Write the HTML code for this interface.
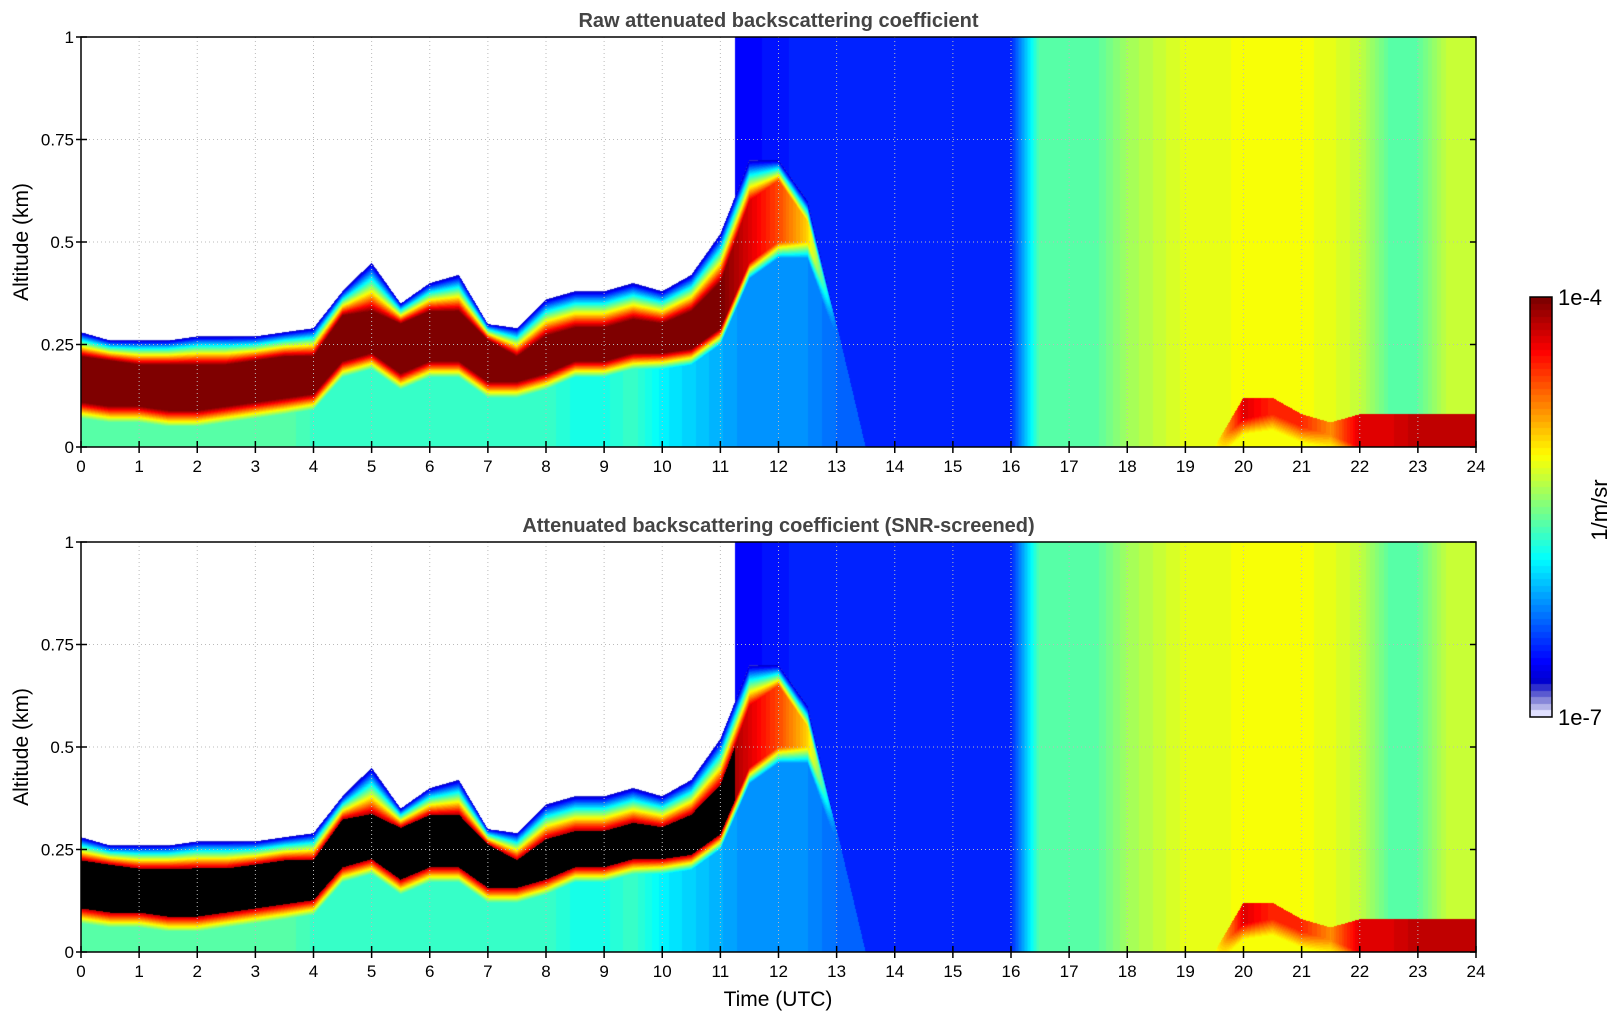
<!DOCTYPE html>
<html><head><meta charset="utf-8">
<style>
body{margin:0;background:#fff;width:1621px;height:1020px;overflow:hidden;font-family:"Liberation Sans",sans-serif;}
#wrap{position:relative;width:1621px;height:1020px;}
canvas{position:absolute;}
svg{position:absolute;left:0;top:0;}
</style></head>
<body>
<div id="wrap">
<canvas id="c1" width="1395" height="410" style="left:81px;top:37px"></canvas>
<canvas id="c2" width="1395" height="410" style="left:81px;top:542px"></canvas>
<canvas id="cb" width="22" height="420" style="left:1530px;top:297px"></canvas>
<svg id="ax" width="1621" height="1020"></svg>
</div>
<script>
// data (every 0.5 h, 0..24)
const hours = [0,0.5,1,1.5,2,2.5,3,3.5,4,4.5,5,5.5,6,6.5,7,7.5,8,8.5,9,9.5,10,10.5,11,11.5,12,12.5,13,13.5,14,14.5,15,15.5,16,16.5,17,17.5,18,18.5,19,19.5,20,20.5,21,21.5,22,22.5,23,23.5,24];
const signalTop = [0.28,0.26,0.26,0.26,0.27,0.27,0.27,0.28,0.29,0.38,0.45,0.35,0.40,0.42,0.30,0.29,0.36,0.38,0.38,0.40,0.38,0.42,0.52,0.70,0.70,0.60,0.30,0,0,0,0,0,0,0,0,0,0,0,0,0,0.12,0.12,0.08,0.06,0.08,0.08,0.08,0.08,0.08];
const bandTop = [0.22,0.21,0.20,0.20,0.20,0.20,0.21,0.22,0.22,0.32,0.33,0.30,0.33,0.33,0.26,0.22,0.27,0.29,0.29,0.31,0.30,0.33,0.40,0.60,0.65,0.55,0.30,0,0,0,0,0,0,0,0,0,0,0,0,0,0.12,0.12,0.08,0.06,0.08,0.08,0.08,0.08,0.08];
const bandBot = [0.11,0.10,0.10,0.09,0.09,0.10,0.11,0.12,0.13,0.21,0.23,0.18,0.21,0.21,0.16,0.16,0.18,0.21,0.21,0.23,0.23,0.24,0.29,0.45,0.50,0.50,0.30,0,0,0,0,0,0,0,0,0,0,0,0,0,0.07,0.08,0.05,0.03,0,0,0,0,0];
const bandLog = [-4,-4,-4,-4,-4,-4,-4,-4,-4,-4,-4,-4,-4,-4,-4,-4,-4,-4,-4,-4,-4,-4,-4,-4.3,-4.6,-5,-6.3,-6.3,-6.5,-6.5,-6.5,-6.5,-6.5,-5.6,-5.6,-5.6,-5.4,-5.3,-5.2,-5.2,-4.3,-4.5,-4.5,-4.8,-4.3,-4.3,-4.2,-4.2,-4.2];
const lowLog = [-5.6,-5.6,-5.6,-5.6,-5.6,-5.6,-5.6,-5.6,-5.7,-5.7,-5.7,-5.7,-5.7,-5.7,-5.7,-5.7,-5.7,-5.8,-5.8,-5.7,-5.9,-6.0,-6.1,-6.2,-6.2,-6.2,-6.3,-6.3,-6.3,-6.3,-6.3,-6.3,-6.3,-5.6,-5.6,-5.6,-5.4,-5.3,-5.2,-5.2,-5.15,-5.15,-5.15,-5.2,-5.3,-5.6,-5.6,-5.3,-5.3];
const upperLog = [null,null,null,null,null,null,null,null,null,null,null,null,null,null,null,null,null,null,null,null,null,null,null,-6.6,-6.55,-6.5,-6.5,-6.5,-6.5,-6.5,-6.5,-6.5,-6.5,-5.6,-5.6,-5.6,-5.4,-5.3,-5.2,-5.2,-5.15,-5.15,-5.15,-5.2,-5.3,-5.6,-5.6,-5.3,-5.3];
const xTicks = [0,1,2,3,4,5,6,7,8,9,10,11,12,13,14,15,16,17,18,19,20,21,22,23,24];
const yTicks = [0,0.25,0.5,0.75,1];
const yTickLabels = ['0','0.25','0.5','0.75','1'];

const X0=81,X1=1476;
function xs(h){return X0+(h/24)*(X1-X0);}
function cl(v){return Math.max(0,Math.min(1,v));}
function jet(f){
  f=Math.min(63,Math.floor(f*64))/63;
  let r=cl(1.5-Math.abs(4*f-3)),g=cl(1.5-Math.abs(4*f-2)),b=cl(1.5-Math.abs(4*f-1));
  if(f<0.08){const w=1-f/0.08;r=r+(0.88-r)*w;g=g+(0.88-g)*w;b=b+(1-b)*w;}
  return [r*255|0,g*255|0,b*255|0];
}
function lerpArr(a,h){
  const p=h/0.5,i=Math.min(hours.length-2,Math.floor(p)),t=p-i;
  const v0=a[i],v1=a[i+1];
  if(v0===null||v1===null) return t<0.5?v0:v1;
  return v0+(v1-v0)*t;
}
function valueAt(h,z){
  const top=lerpArr(signalTop,h),bt=lerpArr(bandTop,h),bb=lerpArr(bandBot,h);
  const bl=lerpArr(bandLog,h),ll=lerpArr(lowLog,h),ul=lerpArr(upperLog,h);
  if(z>top) return ul;
  if(z>bt && top>bt){const t=(z-bt)/(top-bt);return bl+(-6.8-bl)*t;}
  if(z>=bb && bt>bb) return bl;
  if(z<bb && z>bb-0.04 && bt>bb){const t=(bb-z)/0.04;return bl+(ll-bl)*t;}
  return ll;
}
function draw(id,screened){
  const c=document.getElementById(id),ctx=c.getContext('2d');
  const W=c.width,H=c.height,img=ctx.createImageData(W,H);
  for(let x=0;x<W;x++){
    const h=(x+0.5)/W*24;
    for(let y=0;y<H;y++){
      const z=1-(y+0.5)/H;
      const v=valueAt(h,z);
      let col;
      if(v===null) col=[255,255,255];
      else if(screened && v>-4.15 && h<11.5) col=[0,0,0];
      else col=jet(cl((v+7)/3));
      const k=(y*W+x)*4;
      img.data[k]=col[0];img.data[k+1]=col[1];img.data[k+2]=col[2];img.data[k+3]=255;
    }
  }
  ctx.putImageData(img,0,0);
}
draw('c1',false);draw('c2',true);
(function(){const c=document.getElementById('cb'),ctx=c.getContext('2d');
  for(let y=0;y<c.height;y++){const col=jet(cl(1-(y+0.5)/c.height));ctx.fillStyle=`rgb(${col})`;ctx.fillRect(0,y,22,1);}
})();

const svg=document.getElementById('ax');const NS='http://www.w3.org/2000/svg';
function el(tag,attrs,txt){const e=document.createElementNS(NS,tag);for(const k in attrs)e.setAttribute(k,attrs[k]);if(txt!==undefined)e.textContent=txt;svg.appendChild(e);return e;}
function panel(Y0,Y1,title,pname){
  const ys=v=>Y1-v*(Y1-Y0);
  xTicks.forEach(t=>{
    if(t>0&&t<24){const g=el('line',{x1:xs(t),x2:xs(t),y1:Y0,y2:Y1,stroke:'#bbb','stroke-dasharray':'1,3','stroke-width':1});
    }
    const tk=el('line',{x1:xs(t),x2:xs(t),y1:Y1+6,y2:Y1-6,stroke:'#000','stroke-width':1.5});
    
    const lb=el('text',{x:xs(t),y:Y1+25,'text-anchor':'middle','font-size':17},String(t));
    
  });
  yTicks.forEach((v,i)=>{
    if(v>0&&v<1){const g=el('line',{x1:X0,x2:X1,y1:ys(v),y2:ys(v),stroke:'#bbb','stroke-dasharray':'1,3'});
    }
    const tk=el('line',{x1:X0-5,x2:X0+6,y1:ys(v),y2:ys(v),stroke:'#000','stroke-width':1.5});
    
    const tk2=el('line',{x1:X1-6,x2:X1,y1:ys(v),y2:ys(v),stroke:'#000','stroke-width':1.5});
    
    const lb=el('text',{x:X0-7,y:ys(v)+6,'text-anchor':'end','font-size':17},yTickLabels[i]);
    
  });
  const r=el('rect',{x:X0,y:Y0,width:X1-X0,height:Y1-Y0,fill:'none',stroke:'#000','stroke-width':1.5});
  
  const tt=el('text',{x:(X0+X1)/2,y:Y0-10,'text-anchor':'middle','font-size':20,'font-weight':'bold',fill:'#444'},title);
  
  const yl=el('text',{x:0,y:0,'text-anchor':'middle','font-size':21,transform:`translate(28,${(Y0+Y1)/2}) rotate(-90)`},'Altitude (km)');
  
}
panel(37,447,'Raw attenuated backscattering coefficient','top-panel');
panel(542,952,'Attenuated backscattering coefficient (SNR-screened)','bottom-panel');
const xt=el('text',{x:778,y:1006,'text-anchor':'middle','font-size':21},'Time (UTC)');

const cf=el('rect',{x:1530,y:297,width:22,height:420,fill:'none',stroke:'#000','stroke-width':1.5});

const c1=el('text',{x:1558,y:305,'font-size':22},'1e-4');

const c2=el('text',{x:1558,y:725,'font-size':22},'1e-7');

const cu=el('text',{x:0,y:0,'text-anchor':'middle','font-size':22,transform:'translate(1607,510) rotate(-90)'},'1/m/sr');

</script>
</body></html>
